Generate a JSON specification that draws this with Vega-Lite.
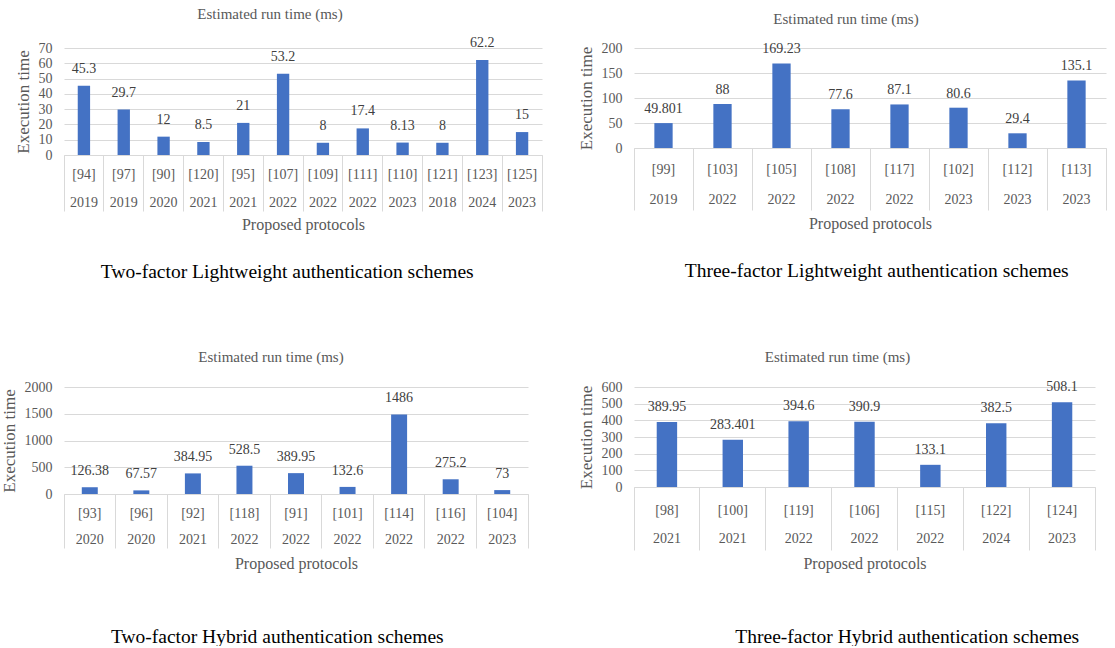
{
  "$schema": "https://vega.github.io/schema/vega-lite/v6.json",
  "background": "white",
  "padding": {"left": 0, "top": 6, "right": 0, "bottom": 0},
  "config": {
    "font": "Liberation Serif",
    "view": {"stroke": null},
    "text": {"font": "Liberation Serif"},
    "axis": {"labelFont": "Liberation Serif", "titleFont": "Liberation Serif"},
    "axisX": {"bandPosition": 1, "tickExtra": true, "tickColor": "#d9d9d9", "domainColor": "#d9d9d9", "labelAngle": 0, "labelFontSize": 14, "labelColor": "#595959", "titleFontSize": 16, "titleFontWeight": "normal", "titleColor": "#595959", "grid": false, "labelBaseline": "top"},
    "axisY": {"grid": true, "gridColor": "#d9d9d9", "domain": false, "ticks": false, "labelFontSize": 14, "labelColor": "#595959", "labelPadding": 12, "titleFontSize": 17, "titleFontWeight": "normal", "titleColor": "#595959", "titlePadding": 6, "labelOverlap": false, "format": "d"},
    "title": {"font": "Liberation Serif", "fontSize": 15, "fontWeight": "normal", "color": "#595959", "anchor": "middle"}
  },
  "datasets": {
    "p1": [
      {"ref": "[94]", "year": "2019", "time": 45.3},
      {"ref": "[97]", "year": "2019", "time": 29.7},
      {"ref": "[90]", "year": "2020", "time": 12},
      {"ref": "[120]", "year": "2021", "time": 8.5},
      {"ref": "[95]", "year": "2021", "time": 21},
      {"ref": "[107]", "year": "2022", "time": 53.2},
      {"ref": "[109]", "year": "2022", "time": 8},
      {"ref": "[111]", "year": "2022", "time": 17.4},
      {"ref": "[110]", "year": "2023", "time": 8.13},
      {"ref": "[121]", "year": "2018", "time": 8},
      {"ref": "[123]", "year": "2024", "time": 62.2},
      {"ref": "[125]", "year": "2023", "time": 15}
    ],
    "p2": [
      {"ref": "[99]", "year": "2019", "time": 49.801},
      {"ref": "[103]", "year": "2022", "time": 88},
      {"ref": "[105]", "year": "2022", "time": 169.23},
      {"ref": "[108]", "year": "2022", "time": 77.6},
      {"ref": "[117]", "year": "2022", "time": 87.1},
      {"ref": "[102]", "year": "2023", "time": 80.6},
      {"ref": "[112]", "year": "2023", "time": 29.4},
      {"ref": "[113]", "year": "2023", "time": 135.1}
    ],
    "p3": [
      {"ref": "[93]", "year": "2020", "time": 126.38},
      {"ref": "[96]", "year": "2020", "time": 67.57},
      {"ref": "[92]", "year": "2021", "time": 384.95},
      {"ref": "[118]", "year": "2022", "time": 528.5},
      {"ref": "[91]", "year": "2022", "time": 389.95},
      {"ref": "[101]", "year": "2022", "time": 132.6},
      {"ref": "[114]", "year": "2022", "time": 1486},
      {"ref": "[116]", "year": "2022", "time": 275.2},
      {"ref": "[104]", "year": "2023", "time": 73}
    ],
    "p4": [
      {"ref": "[98]", "year": "2021", "time": 389.95},
      {"ref": "[100]", "year": "2021", "time": 283.401},
      {"ref": "[119]", "year": "2022", "time": 394.6},
      {"ref": "[106]", "year": "2022", "time": 390.9},
      {"ref": "[115]", "year": "2022", "time": 133.1},
      {"ref": "[122]", "year": "2024", "time": 382.5},
      {"ref": "[124]", "year": "2023", "time": 508.1}
    ]
  },
  "columns": 2,
  "align": "none",
  "spacing": {"row": 69, "column": 34},
  "concat": [
    {
      "title": {"text": "Two-factor Lightweight authentication schemes", "orient": "bottom", "offset": 30, "dx": 9, "fontSize": 19.5, "color": "#000000"},
      "vconcat": [{
        "width": 478, "height": 107,
        "title": {"text": "Estimated run time  (ms)", "offset": 14, "dx": -33, "frame": "group"},
        "data": {"name": "p1"},
        "encoding": {
          "x": {"field": "ref", "type": "nominal", "sort": null, "scale": {"paddingInner": 0, "paddingOuter": 0},
            "axis": {"title": "Proposed protocols", "tickSize": 56, "labelPadding": -44, "titlePadding": 5}}
        },
        "resolve": {"axis": {"y": "independent"}},
        "layer": [
          {"mark": {"type": "bar", "color": "#4472c4", "width": {"band": 0.31}},
           "encoding": {"y": {"field": "time", "type": "quantitative", "scale": {"domain": [0, 70], "nice": false},
            "axis": {"title": "Execution time", "values": [0, 10, 20, 30, 40, 50, 60, 70]}}}},
          {"mark": {"type": "text", "dy": -17, "baseline": "middle", "fontSize": 14, "color": "#404040"},
           "encoding": {"y": {"field": "time", "type": "quantitative", "axis": null},
            "text": {"field": "time", "type": "nominal"}}},
          {"mark": {"type": "text", "dy": 48, "baseline": "middle", "fontSize": 14, "color": "#595959"},
           "encoding": {"y": {"datum": 0, "type": "quantitative", "axis": null},
            "text": {"field": "year", "type": "nominal"}}}
        ]
      }]
    },
    {
      "title": {"text": "Three-factor Lightweight  authentication schemes", "orient": "bottom", "offset": 30, "dx": 35, "fontSize": 19.5, "color": "#000000"},
      "vconcat": [{
        "width": 472, "height": 100,
        "title": {"text": "Estimated run time (ms)", "offset": 14, "dx": -24, "frame": "group"},
        "data": {"name": "p2"},
        "encoding": {
          "x": {"field": "ref", "type": "nominal", "sort": null, "scale": {"paddingInner": 0, "paddingOuter": 0},
            "axis": {"title": "Proposed protocols", "tickSize": 62, "labelPadding": -48, "titlePadding": 5}}
        },
        "resolve": {"axis": {"y": "independent"}},
        "layer": [
          {"mark": {"type": "bar", "color": "#4472c4", "width": {"band": 0.31}},
           "encoding": {"y": {"field": "time", "type": "quantitative", "scale": {"domain": [0, 200], "nice": false},
            "axis": {"title": "Execution time", "values": [0, 50, 100, 150, 200]}}}},
          {"mark": {"type": "text", "dy": -14, "baseline": "middle", "fontSize": 14, "color": "#404040"},
           "encoding": {"y": {"field": "time", "type": "quantitative", "axis": null},
            "text": {"field": "time", "type": "nominal"}}},
          {"mark": {"type": "text", "dy": 52, "baseline": "middle", "fontSize": 14, "color": "#595959"},
           "encoding": {"y": {"datum": 0, "type": "quantitative", "axis": null},
            "text": {"field": "year", "type": "nominal"}}}
        ]
      }]
    },
    {
      "title": {"text": "Two-factor Hybrid authentication schemes", "orient": "bottom", "offset": 56, "dx": 13, "fontSize": 19.5, "color": "#000000"},
      "vconcat": [{
        "width": 464, "height": 107,
        "title": {"text": "Estimated run time (ms)", "offset": 15, "dx": -25, "frame": "group"},
        "data": {"name": "p3"},
        "encoding": {
          "x": {"field": "ref", "type": "nominal", "sort": null, "scale": {"paddingInner": 0, "paddingOuter": 0},
            "axis": {"title": "Proposed protocols", "tickSize": 54, "labelPadding": -42, "titlePadding": 7}}
        },
        "resolve": {"axis": {"y": "independent"}},
        "layer": [
          {"mark": {"type": "bar", "color": "#4472c4", "width": {"band": 0.31}},
           "encoding": {"y": {"field": "time", "type": "quantitative", "scale": {"domain": [0, 2000], "nice": false},
            "axis": {"title": "Execution time", "values": [0, 500, 1000, 1500, 2000]}}}},
          {"mark": {"type": "text", "dy": -16, "baseline": "middle", "fontSize": 14, "color": "#404040"},
           "encoding": {"y": {"field": "time", "type": "quantitative", "axis": null},
            "text": {"field": "time", "type": "nominal"}}},
          {"mark": {"type": "text", "dy": 46, "baseline": "middle", "fontSize": 14, "color": "#595959"},
           "encoding": {"y": {"datum": 0, "type": "quantitative", "axis": null},
            "text": {"field": "year", "type": "nominal"}}}
        ]
      }]
    },
    {
      "title": {"text": "Three-factor  Hybrid authentication schemes", "orient": "bottom", "offset": 56, "dx": 71, "fontSize": 19.5, "color": "#000000"},
      "vconcat": [{
        "width": 461, "height": 100,
        "title": {"text": "Estimated run time (ms)", "offset": 15, "dx": -27, "frame": "group"},
        "data": {"name": "p4"},
        "encoding": {
          "x": {"field": "ref", "type": "nominal", "sort": null, "scale": {"paddingInner": 0, "paddingOuter": 0},
            "axis": {"title": "Proposed protocols", "tickSize": 63, "labelPadding": -47, "titlePadding": 5}}
        },
        "resolve": {"axis": {"y": "independent"}},
        "layer": [
          {"mark": {"type": "bar", "color": "#4472c4", "width": {"band": 0.31}},
           "encoding": {"y": {"field": "time", "type": "quantitative", "scale": {"domain": [0, 600], "nice": false},
            "axis": {"title": "Execution time", "values": [0, 100, 200, 300, 400, 500, 600]}}}},
          {"mark": {"type": "text", "dy": -15, "baseline": "middle", "fontSize": 14, "color": "#404040"},
           "encoding": {"y": {"field": "time", "type": "quantitative", "axis": null},
            "text": {"field": "time", "type": "nominal"}}},
          {"mark": {"type": "text", "dy": 52, "baseline": "middle", "fontSize": 14, "color": "#595959"},
           "encoding": {"y": {"datum": 0, "type": "quantitative", "axis": null},
            "text": {"field": "year", "type": "nominal"}}}
        ]
      }]
    }
  ]
}
